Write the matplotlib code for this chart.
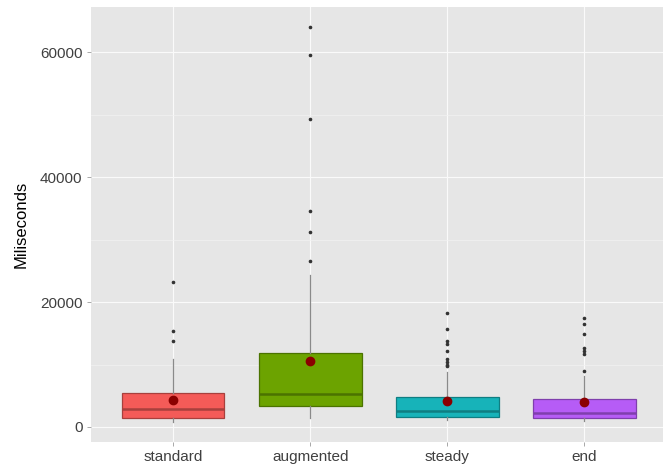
import matplotlib
matplotlib.use("Agg")
import matplotlib.pyplot as plt
from matplotlib.ticker import MultipleLocator

plt.rcParams["font.family"] = ["Liberation Sans", "DejaVu Sans"]

# Response time summaries per condition (milliseconds)
categories = ["standard", "augmented", "steady", "end"]
q1 = [1390, 3410, 1550, 1390]
medians = [2830, 5280, 2560, 2290]
q3 = [5390, 11890, 4750, 4480]
whisker_low = [850, 1390, 1120, 1010]
whisker_high = [10830, 24320, 8850, 8160]
means = [4370, 10610, 4210, 3950]
outliers = [
    [23250, 15410, 13760],
    [64100, 59570, 49330, 34610, 31150, 26610],
    [18190, 15730, 13700, 13300, 12210, 10900, 10400, 10000, 9700],
    [17390, 16430, 14830, 12600, 12150, 11700, 9010],
]

fills = ["#F45B58", "#6CA300", "#17B3B9", "#B65CF6"]
edges = ["#A8403D", "#4B7300", "#0F7E82", "#7F3FAD"]

fig = plt.figure(figsize=(6.63, 4.69), dpi=100)
ax = fig.add_axes([90.8 / 663, 1 - 441.7 / 469, (666.7 - 90.8) / 663, (441.7 - 7) / 469])

ax.set_facecolor("#E6E6E6")
for s in ax.spines.values():
    s.set_visible(False)

ax.set_xlim(0.4, 4.6)
ax.set_ylim(-2365, 67265)
ax.yaxis.set_major_locator(MultipleLocator(20000))
ax.yaxis.set_minor_locator(MultipleLocator(10000))
ax.grid(which="major", color="#FAFAFA", linewidth=0.8, zorder=0)
ax.grid(which="minor", axis="y", color="#F2F2F2", linewidth=0.5, zorder=0)
ax.set_axisbelow(True)

positions = list(range(1, len(categories) + 1))
stats = []
for i, name in enumerate(categories):
    stats.append(dict(label=name, med=medians[i], q1=q1[i], q3=q3[i],
                      whislo=whisker_low[i], whishi=whisker_high[i],
                      fliers=outliers[i], mean=means[i]))

bp = ax.bxp(stats, positions=positions, widths=0.75, patch_artist=True,
            showmeans=True, showcaps=False,
            whiskerprops=dict(color="#8A8A8A", linewidth=0.9),
            flierprops=dict(marker="o", markersize=1.6, markerfacecolor="#333333",
                            markeredgecolor="#333333", linestyle="none"),
            meanprops=dict(marker="o", markersize=6, markerfacecolor="#8B0000",
                           markeredgecolor="#8B0000"),
            medianprops=dict(linewidth=1.8),
            boxprops=dict(linewidth=0.9))

for i, box in enumerate(bp["boxes"]):
    box.set_facecolor(fills[i])
    box.set_edgecolor(edges[i])
    box.set_zorder(2)
for i, med in enumerate(bp["medians"]):
    med.set_color(edges[i])
    med.set_zorder(3)
for m in bp["means"]:
    m.set_zorder(4)

ax.set_xticks(positions)
ax.set_xticklabels(categories)
ax.tick_params(axis="both", which="major", length=3, width=0.6, color="#9A9A9A",
               labelsize=11, labelcolor="#404040", pad=3)
ax.tick_params(axis="y", which="minor", length=0)
ax.set_ylabel("Miliseconds", fontsize=12, color="black", labelpad=8)

fig.savefig("out.png", dpi=100)
